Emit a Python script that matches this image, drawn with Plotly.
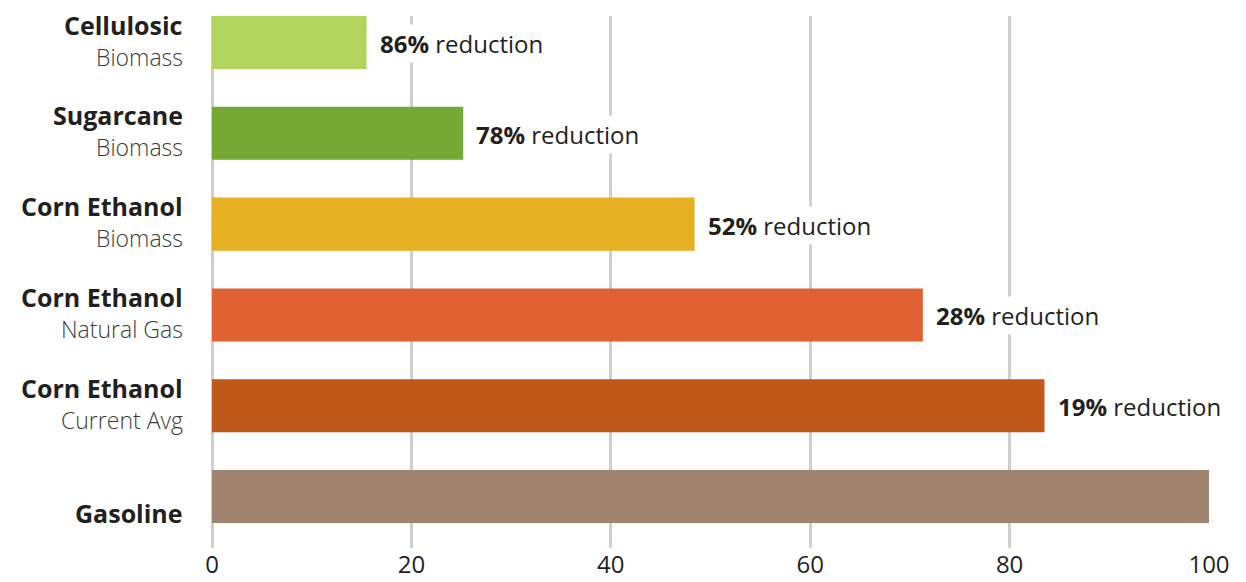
import plotly.graph_objects as go

titles = ["Cellulosic", "Sugarcane", "Corn Ethanol", "Corn Ethanol", "Corn Ethanol", "Gasoline"]
subtitles = ["Biomass", "Biomass", "Biomass", "Natural Gas", "Current Avg", ""]
values = [15.5, 25.2, 48.4, 71.3, 83.5, 100]
reductions = ["86%", "78%", "52%", "28%", "19%", ""]
colors = ["#b2d35c", "#76a834", "#e5b022", "#e06233", "#bf5818", "#a08470"]

cats = list(range(len(titles)))
FONT = "Open Sans"
DARK = "#231f20"

fig = go.Figure()
fig.add_trace(go.Bar(
    x=values, y=cats, orientation="h",
    marker=dict(color=colors, line=dict(width=0)),
    width=0.584, hoverinfo="skip",
))

ann = []
for c, t, s, v, r in zip(cats, titles, subtitles, values, reductions):
    if s:
        ann.append(dict(x=0, xref="paper", y=c, yref="y", text=t, showarrow=False,
                        xanchor="right", xshift=-27, yshift=18,
                        font=dict(family=FONT, size=25, color=DARK, weight=700)))
        ann.append(dict(x=0, xref="paper", y=c, yref="y", text=s, showarrow=False,
                        xanchor="right", xshift=-27, yshift=-14,
                        font=dict(family=FONT, size=23, color="#3c3c3c", weight=300)))
    else:
        ann.append(dict(x=0, xref="paper", y=c, yref="y", text=t, showarrow=False,
                        xanchor="right", xshift=-27, yshift=-16,
                        font=dict(family=FONT, size=25, color=DARK, weight=700)))
    if r:
        ann.append(dict(x=v, xref="x", y=c, yref="y",
                        text=f"<b>{r}</b> reduction", showarrow=False,
                        xanchor="left", xshift=10, yshift=-1, bgcolor="white",
                        borderpad=2,
                        font=dict(family=FONT, size=24, color=DARK)))

fig.update_layout(
    width=1246, height=582,
    margin=dict(l=212, r=37, t=16, b=34, autoexpand=False),
    plot_bgcolor="white", paper_bgcolor="white",
    showlegend=False,
    annotations=ann,
    xaxis=dict(range=[0, 100], tickvals=[0, 20, 40, 60, 80, 100],
               showgrid=True, gridcolor="#cfcfcf", gridwidth=3,
               zeroline=True, zerolinecolor="#cfcfcf", zerolinewidth=3,
               showline=False, ticks="", automargin=False,
               tickfont=dict(family=FONT, size=24, color=DARK)),
    yaxis=dict(range=[5.567, -0.292], showticklabels=False, showgrid=False,
               zeroline=False, showline=False, automargin=False),
)

fig.write_html("out.html")
